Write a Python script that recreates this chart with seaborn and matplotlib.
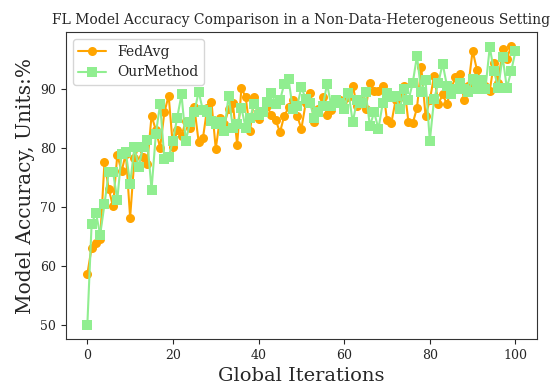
import numpy as np
import pandas as pd
import matplotlib
matplotlib.use("Agg")
import matplotlib.pyplot as plt
import seaborn as sns

# values
iterations = list(range(101))
fedavg = [
    58.6, 63.1, 63.9, 64.5, 77.5, 73.0, 70.1, 78.8, 76.0, 79.0,
    68.2, 78.2, 80.2, 78.5, 77.3, 85.4, 83.0, 80.0, 86.0, 88.8,
    80.1, 83.0, 82.0, 84.5, 83.4, 86.8, 81.0, 81.6, 86.7, 87.7,
    79.8, 85.1, 84.0, 86.5, 87.5, 80.5, 90.1, 88.5, 82.8, 88.5,
    84.8, 86.0, 87.0, 85.5, 84.7, 82.6, 85.4, 86.8, 88.0, 85.4,
    83.2, 87.5, 89.3, 84.3, 86.5, 88.5, 85.5, 86.3, 87.5, 88.0,
    86.5, 88.5, 90.5, 87.0, 88.0, 86.5, 91.0, 89.6, 89.6, 90.5,
    84.6, 84.1, 88.0, 88.5, 90.5, 84.4, 84.1, 86.7, 93.7, 85.4,
    88.0, 92.2, 87.4, 89.0, 87.4, 90.0, 91.9, 92.4, 88.1, 90.5,
    96.4, 93.2, 91.0, 90.5, 89.6, 94.4, 91.0, 96.7, 95.0, 97.2,
    96.5,
]
ourmethod = [
    50.0, 67.1, 69.0, 65.3, 70.4, 75.9, 75.9, 71.2, 79.0, 79.2,
    73.9, 80.1, 76.7, 80.1, 81.3, 72.9, 82.3, 87.4, 78.1, 78.4,
    81.2, 85.1, 89.0, 81.2, 84.3, 86.0, 89.5, 86.3, 86.0, 84.5,
    84.0, 84.3, 82.9, 88.8, 83.3, 84.0, 86.7, 83.3, 85.0, 87.4,
    85.6, 86.0, 87.7, 89.3, 87.4, 88.0, 90.8, 91.6, 86.5, 87.0,
    90.2, 88.3, 87.5, 85.1, 86.0, 87.0, 90.8, 87.0, 88.0, 87.5,
    86.5, 89.3, 84.3, 88.0, 87.5, 89.5, 83.7, 86.0, 83.2, 87.5,
    89.3, 88.5, 88.8, 86.5, 89.9, 88.0, 90.9, 95.5, 89.5, 91.5,
    81.1, 88.2, 91.0, 94.2, 90.5, 89.0, 90.0, 91.0, 90.0, 89.5,
    91.6, 89.9, 91.5, 90.0, 97.0, 92.9, 90.1, 95.4, 90.1, 92.9,
    96.3,
]

df = pd.DataFrame({"iter": iterations, "FedAvg": fedavg, "OurMethod": ourmethod})

sns.set_style("ticks")
plt.rcParams["font.family"] = ["DejaVu Serif"]

fig = plt.figure(figsize=(5.54, 3.88), dpi=100)
ax = fig.add_axes([0.119, 0.126, 0.85, 0.7915])

sns.lineplot(data=df, x="iter", y="FedAvg", color="orange", marker="o",
             markersize=6.5, markeredgewidth=0, linewidth=1.5, label="FedAvg", ax=ax)
sns.lineplot(data=df, x="iter", y="OurMethod", color="lightgreen", marker="s",
             markersize=6.5, markeredgewidth=0, linewidth=1.5, label="OurMethod", ax=ax)

ax.set_title("FL Model Accuracy Comparison in a Non-Data-Heterogeneous Setting", fontsize=10)
ax.set_xlabel("Global Iterations", fontsize=14)
ax.set_ylabel("Model Accuracy, Units:%", fontsize=14.5)
ax.tick_params(labelsize=9)
ax.set_xticks([0, 20, 40, 60, 80, 100])
ax.set_yticks([50, 60, 70, 80, 90])
for s in ax.spines.values():
    s.set_color("#333333")
ax.legend(loc="upper left", fontsize=10, fancybox=True, framealpha=0.8)

fig.savefig("out.png", dpi=100)
